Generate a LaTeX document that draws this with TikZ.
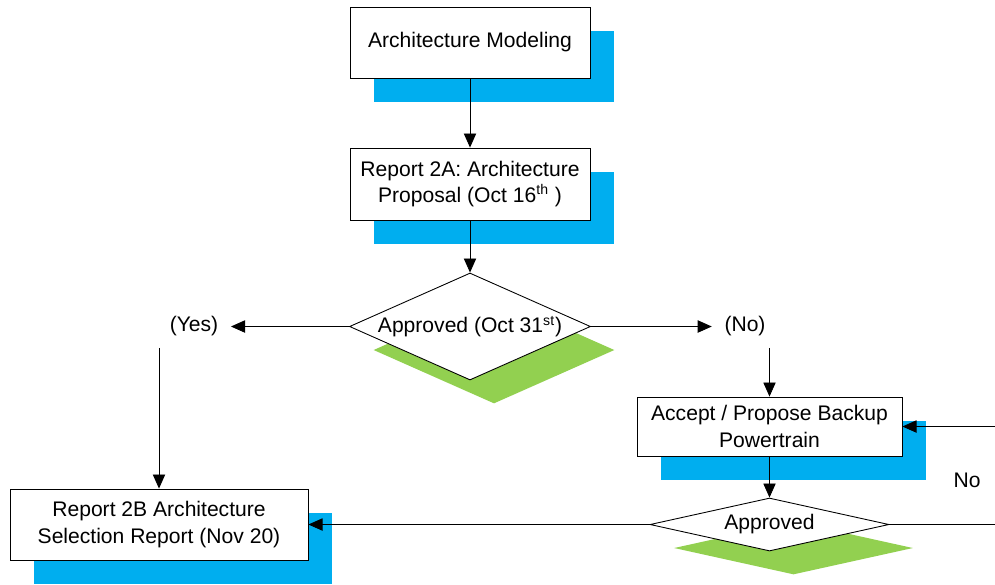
\documentclass[tikz,border=0pt]{standalone}
\usepackage{fontspec}
\setmainfont{Liberation Sans}
\usetikzlibrary{%
  arrows.meta,%
  shapes.geometric,% wg. diamond
  shadows,%
  positioning%
}
\definecolor{shadowblue}{RGB}{0,174,239}
\definecolor{shadowgreen}{RGB}{146,208,80}

\begin{document}
\begin{tikzpicture}[>={Triangle[length=8pt,width=7pt]}, line width=0.5pt,
  font=\fontsize{12}{15}\selectfont,
  task/.style={draw, fill=white, align=center, inner sep=0pt,
    drop shadow={shadow xshift=0.48cm, shadow yshift=-0.47cm, fill=shadowblue, opacity=1}},
  decision/.style={draw, diamond, fill=white, align=center, inner sep=0pt,
    drop shadow={shadow xshift=0.48cm, shadow yshift=-0.47cm, fill=shadowgreen, opacity=1}}]

\useasboundingbox (0,0) rectangle (19.9,-11.68);

% --------
\node[task, minimum width=4.8cm, minimum height=1.42cm] (model) at (9.4,-0.85) {Architecture Modeling};
\node[task, minimum width=4.8cm, minimum height=1.44cm] (rep2a) at (9.4,-3.68) {Report 2A: Architecture\\Proposal (Oct 16\textsuperscript{th} )};
\node[decision, minimum width=4.82cm, minimum height=2.14cm] (ok1) at (9.4,-6.53) {\makebox[0pt]{Approved (Oct 31\textsuperscript{st})}};

\node[inner xsep=7pt] (yes) at (3.88,-6.53) {(Yes)};
\node[inner xsep=7pt] (no) at (14.9,-6.53) {(No)};

% --------
\node[task, minimum width=5.3cm, minimum height=1.18cm] (accept) at (15.39,-8.53) {Accept / Propose Backup\\Powertrain};
\node[decision, aspect=4.5, minimum width=4.78cm, minimum height=1.06cm] (ok2) at (15.39,-10.49) {Approved};
\node[task, minimum width=5.96cm, minimum height=1.42cm] (rep2b) at (3.18,-10.49) {Report 2B Architecture\\Selection Report (Nov 20)};

\node (nolabel) at (19.34,-9.6) {No};
\coordinate (loopin) at (19.9,-8.53);
\coordinate (loopout) at (19.9,-10.49);

% --------
\draw [->] (model) -- (rep2a);
\draw [->] (rep2a) -- (ok1);
\draw [->] (ok1) -- (yes);
\draw [->] (ok1) -- (no);
\draw [->] ([yshift=-3pt]yes.south -| rep2b.north) -- (rep2b);
\draw [->] ([yshift=-3pt]no.south -| accept.north) -- (accept);
\draw [->] (accept) -- (ok2);
\draw [->] (ok2) -- (rep2b);
\draw (ok2) -- (loopout);
\draw [->] (loopin) -- (loopin -| accept.east);

\end{tikzpicture}
\end{document}
